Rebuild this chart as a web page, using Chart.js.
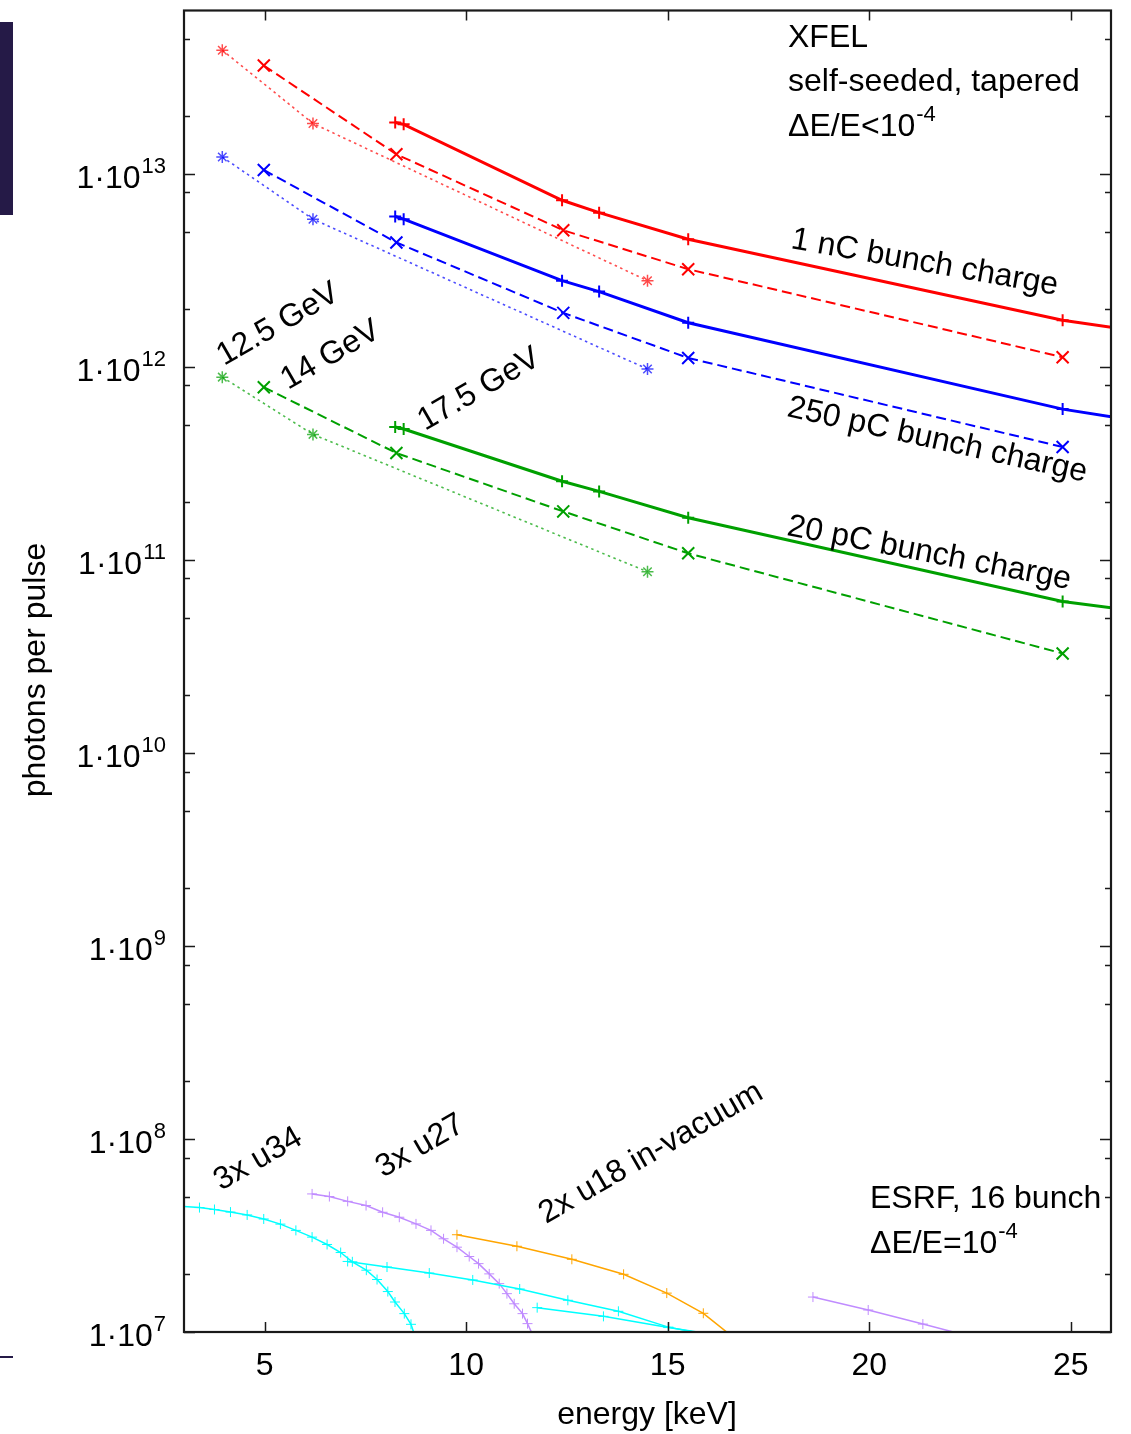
<!DOCTYPE html>
<html>
<head>
<meta charset="utf-8">
<script src="https://cdn.jsdelivr.net/npm/chart.js@4.4.1/dist/chart.umd.min.js"></script>
<style>
html,body{margin:0;padding:0;background:#fff;}
canvas{display:block;}
</style>
</head>
<body>
<canvas id="c" width="1131" height="1434"></canvas>
<script>
// ---------------- data (photon energy in keV, photons per pulse) ----------------
// XFEL, 17.5 GeV (solid)
const e175 = [8.24, 8.45, 12.38, 13.30, 15.51, 24.80, 28.0];
const nC1_175   = [1.84e13, 1.80e13, 7.28e12, 6.28e12, 4.57e12, 1.74e12, 1.39e12];
const pC250_175 = [6.00e12, 5.81e12, 2.79e12, 2.45e12, 1.69e12, 6.03e11, 4.74e11];
const pC20_175  = [4.87e11, 4.76e11, 2.55e11, 2.26e11, 1.65e11, 6.08e10, 4.97e10];
// XFEL, 14 GeV (dashed)
const e14 = [4.98, 8.27, 12.41, 15.51, 24.80];
const nC1_14   = [3.63e13, 1.26e13, 5.09e12, 3.20e12, 1.12e12];
const pC250_14 = [1.045e13, 4.40e12, 1.90e12, 1.11e12, 3.84e11];
const pC20_14  = [7.83e11, 3.57e11, 1.78e11, 1.08e11, 3.27e10];
// XFEL, 12.5 GeV (dotted)
const e125 = [3.95, 6.20, 14.50];
const nC1_125   = [4.36e13, 1.82e13, 2.79e12];
const pC250_125 = [1.22e13, 5.81e12, 9.73e11];
const pC20_125  = [8.83e11, 4.46e11, 8.67e10];
// ESRF, 16 bunch
const eU34a = [2.90, 3.384, 3.756, 4.153, 4.567, 4.978, 5.392, 5.776, 6.178, 6.55, 6.887, 7.177, 7.524, 7.79, 8.057, 8.235, 8.466, 8.632, 8.81];
const vU34a = [4.49e7, 4.41e7, 4.31e7, 4.18e7, 4.04e7, 3.85e7, 3.62e7, 3.36e7, 3.10e7, 2.84e7, 2.58e7, 2.31e7, 2.09e7, 1.87e7, 1.62e7, 1.43e7, 1.245e7, 1.096e7, 8.5e6];
const eU34b = [7.06, 8.037, 9.086, 10.164, 11.329, 12.524, 13.778, 15.018, 16.5];
const vU34b = [2.32e7, 2.17e7, 2.02e7, 1.86e7, 1.67e7, 1.46e7, 1.28e7, 1.06e7, 9.25e6];
const eU34c = [11.763, 13.407, 15.018, 16.5];
const vU34c = [1.337e7, 1.205e7, 1.054e7, 9.45e6];
const eU27a = [6.178, 6.607, 7.061, 7.517, 7.928, 8.342, 8.756, 9.128, 9.44, 9.773, 10.077, 10.308, 10.573, 10.821, 11.012, 11.193, 11.399, 11.523, 11.714];
const vU27a = [5.19e7, 5.03e7, 4.75e7, 4.52e7, 4.17e7, 3.93e7, 3.63e7, 3.36e7, 3.04e7, 2.75e7, 2.46e7, 2.26e7, 2.00e7, 1.78e7, 1.58e7, 1.40e7, 1.245e7, 1.105e7, 9.06e6];
const eU27b = [18.605, 19.976, 21.332, 22.5];
const vU27b = [1.517e7, 1.30e7, 1.099e7, 9.5e6];
const eU18 = [9.772, 11.26, 12.623, 13.907, 14.978, 15.885, 16.72];
const vU18 = [3.19e7, 2.78e7, 2.38e7, 1.99e7, 1.59e7, 1.25e7, 9.06e6];

// axes
const xRange = [3, 26];
const yRange = [1e7, 7e13];
const xTickValues = [5, 10, 15, 20, 25];
const yTickExponents = [7, 8, 9, 10, 11, 12, 13];
const yMinorMantissas = [2, 5, 8];
const xTitle = 'energy [keV]';
const yTitle = 'photons per pulse';

// ---------------- styles ----------------
const RED = '#ff0000', BLUE = '#0000ff', GREEN = '#00a000';
const CYAN = '#00ffff', PURPLE = '#c08cff', ORANGE = '#ffa500';
const FONT = '"Liberation Sans", Arial, Helvetica, sans-serif';
const FS = 32;

function pts(xs, ys) { return xs.map((x, i) => ({x: x, y: ys[i]})); }
function inRange(p) {
  return p && p.x >= xRange[0] && p.x <= xRange[1] && p.y >= yRange[0] && p.y <= yRange[1];
}
function withAlpha(hex, a) {
  const n = parseInt(hex.slice(1), 16);
  return `rgba(${(n >> 16) & 255},${(n >> 8) & 255},${n & 255},${a})`;
}
function series(xs, ys, color, kind) {
  const base = { data: pts(xs, ys), fill: false, tension: 0 };
  let st;
  if (kind === 'solid') {
    st = { borderColor: color, borderWidth: 3, pointStyle: 'cross', r: 6, pw: 2 };
  } else if (kind === 'dashed') {
    st = { borderColor: color, borderWidth: 2, borderDash: [10, 5], pointStyle: 'crossRot', r: 8.5, pw: 2 };
  } else if (kind === 'dotted') {
    st = { borderColor: withAlpha(color, 0.7), borderWidth: 1.6, borderDash: [2.5, 3.5], pointStyle: 'star', r: 6, pw: 1.5 };
  } else {
    st = { borderColor: color, borderWidth: 1.5, pointStyle: 'cross', r: 5, pw: 1 };
  }
  const r = st.r;
  return Object.assign(base, {
    borderColor: st.borderColor,
    borderWidth: st.borderWidth,
    borderDash: st.borderDash || [],
    pointStyle: st.pointStyle,
    pointBorderColor: st.borderColor,
    pointBackgroundColor: st.borderColor,
    pointBorderWidth: st.pw,
    pointRadius: (c) => inRange(c.raw) ? r : 0,
    pointHoverRadius: (c) => inRange(c.raw) ? r : 0
  });
}

const datasets = [
  series(eU34a, vU34a, CYAN, 'esrf'),
  series(eU34b, vU34b, CYAN, 'esrf'),
  series(eU34c, vU34c, CYAN, 'esrf'),
  series(eU27a, vU27a, PURPLE, 'esrf'),
  series(eU27b, vU27b, PURPLE, 'esrf'),
  series(eU18, vU18, ORANGE, 'esrf'),
  series(e125, nC1_125, RED, 'dotted'),
  series(e125, pC250_125, BLUE, 'dotted'),
  series(e125, pC20_125, GREEN, 'dotted'),
  series(e14, nC1_14, RED, 'dashed'),
  series(e14, pC250_14, BLUE, 'dashed'),
  series(e14, pC20_14, GREEN, 'dashed'),
  series(e175, nC1_175, RED, 'solid'),
  series(e175, pC250_175, BLUE, 'solid'),
  series(e175, pC20_175, GREEN, 'solid')
];

// ---------------- text helpers ----------------
function drawRich(ctx, parts, x, y, align, size) {
  const supSize = 22;
  const widths = parts.map(p => {
    ctx.font = (p.sup ? supSize : size) + 'px ' + FONT;
    return ctx.measureText(p.t).width;
  });
  const total = widths.reduce((a, b) => a + b, 0);
  let cx = align === 'right' ? x - total : (align === 'center' ? x - total / 2 : x);
  ctx.textAlign = 'left';
  ctx.textBaseline = 'alphabetic';
  parts.forEach((p, i) => {
    ctx.font = (p.sup ? supSize : size) + 'px ' + FONT;
    ctx.fillText(p.t, cx + (p.sup ? 1 : 0), p.sup ? y - 15 : y);
    cx += widths[i];
  });
}
function drawRotated(ctx, text, x, y, deg, size) {
  ctx.save();
  ctx.translate(x, y);
  ctx.rotate(deg * Math.PI / 180);
  ctx.font = size + 'px ' + FONT;
  ctx.textAlign = 'left';
  ctx.textBaseline = 'alphabetic';
  ctx.fillText(text, 0, 0);
  ctx.restore();
}

const framePlugin = {
  id: 'gnuplotFrame',
  beforeDraw(chart) {
    const ctx = chart.ctx;
    ctx.save();
    ctx.fillStyle = '#ffffff';
    ctx.fillRect(0, 0, chart.width, chart.height);
    // dark strip remnants at the left edge of the original figure
    ctx.fillStyle = '#251a47';
    ctx.fillRect(0, 22, 13, 193);
    ctx.fillRect(0, 1356, 13, 2);
    ctx.restore();
  },
  afterDraw(chart) {
    const ctx = chart.ctx, a = chart.chartArea;
    const xs = chart.scales.x, ys = chart.scales.y;
    ctx.save();
    ctx.strokeStyle = '#1a1a1a';
    ctx.fillStyle = '#000';
    ctx.lineWidth = 1.5;
    ctx.beginPath();
    yTickExponents.forEach(e => {
      const py = Math.round(ys.getPixelForValue(Math.pow(10, e))) + 0.5;
      ctx.moveTo(a.left, py); ctx.lineTo(a.left + 11, py);
      ctx.moveTo(a.right, py); ctx.lineTo(a.right - 11, py);
      yMinorMantissas.forEach(m => {
        const v = m * Math.pow(10, e);
        if (v > yRange[1]) return;
        const pm = Math.round(ys.getPixelForValue(v)) + 0.5;
        ctx.moveTo(a.left, pm); ctx.lineTo(a.left + 6, pm);
        ctx.moveTo(a.right, pm); ctx.lineTo(a.right - 6, pm);
      });
    });
    xTickValues.forEach(v => {
      const px = Math.round(xs.getPixelForValue(v)) + 0.5;
      ctx.moveTo(px, a.bottom); ctx.lineTo(px, a.bottom - 10);
      ctx.moveTo(px, a.top); ctx.lineTo(px, a.top + 10);
    });
    ctx.stroke();
    ctx.lineWidth = 2.2;
    ctx.strokeRect(a.left, a.top, a.right - a.left, a.bottom - a.top);

    // y tick labels
    yTickExponents.forEach(e => {
      const py = ys.getPixelForValue(Math.pow(10, e));
      drawRich(ctx, [{t: '1\u00b710', sup: false}, {t: String(e), sup: true}], 165, py + 14, 'right', FS);
    });
    // x tick labels
    ctx.font = FS + 'px ' + FONT;
    ctx.textAlign = 'center';
    ctx.textBaseline = 'alphabetic';
    xTickValues.forEach(v => {
      ctx.fillText(String(v), xs.getPixelForValue(v), 1375);
    });
    // axis titles
    ctx.fillText(xTitle, 647, 1424);
    ctx.save();
    ctx.translate(45, 670);
    ctx.rotate(-Math.PI / 2);
    ctx.textAlign = 'center';
    ctx.fillText(yTitle, 0, 0);
    ctx.restore();

    // annotations
    ctx.textAlign = 'left';
    ctx.fillText('XFEL', 788, 47);
    ctx.fillText('self-seeded, tapered', 788, 91);
    drawRich(ctx, [{t: '\u0394E/E<10', sup: false}, {t: '-4', sup: true}], 788, 136, 'left', FS);
    ctx.font = FS + 'px ' + FONT;
    ctx.fillText('ESRF, 16 bunch', 870, 1208);
    drawRich(ctx, [{t: '\u0394E/E=10', sup: false}, {t: '-4', sup: true}], 870, 1253, 'left', FS);

    drawRotated(ctx, '1 nC bunch charge', 790, 248, 10, FS);
    drawRotated(ctx, '250 pC bunch charge', 786, 416, 12.4, FS);
    drawRotated(ctx, '20 pC bunch charge', 786, 535, 10.8, FS);
    drawRotated(ctx, '12.5 GeV', 224, 366, -30, FS);
    drawRotated(ctx, '14 GeV', 288, 390, -30, FS);
    drawRotated(ctx, '17.5 GeV', 425, 431, -30, FS);
    drawRotated(ctx, '3x u34', 221, 1191, -30, FS);
    drawRotated(ctx, '3x u27', 383, 1178, -30, FS);
    drawRotated(ctx, '2x u18 in-vacuum', 546, 1224, -30, FS);
    ctx.restore();
  }
};

new Chart(document.getElementById('c'), {
  type: 'line',
  data: { datasets: datasets },
  options: {
    responsive: false,
    animation: false,
    devicePixelRatio: 1,
    layout: { padding: { left: 184, top: 8, right: 20, bottom: 102 } },
    plugins: { legend: { display: false }, tooltip: { enabled: false } },
    scales: {
      x: { type: 'linear', min: xRange[0], max: xRange[1], display: false },
      y: { type: 'logarithmic', min: yRange[0], max: yRange[1], display: false }
    }
  },
  plugins: [framePlugin]
});
</script>
</body>
</html>
